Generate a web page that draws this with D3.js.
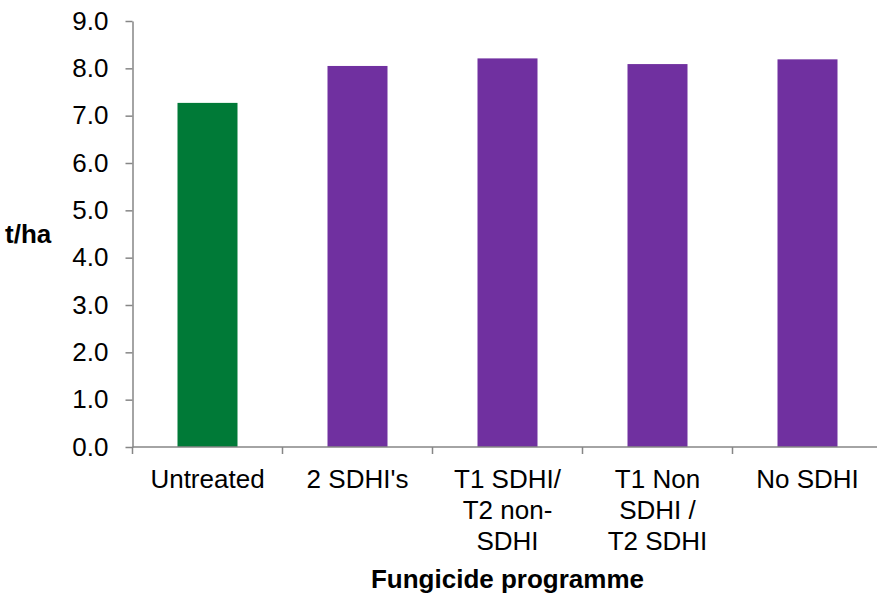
<!DOCTYPE html>
<html>
<head>
<meta charset="utf-8">
<script src="https://cdn.jsdelivr.net/npm/d3@7"></script>
<style>
  html, body { margin: 0; padding: 0; background: #fff; }
  svg { display: block; font-family: "Liberation Sans", Arial, sans-serif; }
</style>
</head>
<body>
<svg id="chart" width="877" height="594"></svg>
<script>
// Yield (t/ha) by fungicide programme
const categories = ["Untreated", "2 SDHI's", "T1 SDHI/ T2 non-SDHI", "T1 Non SDHI / T2 SDHI", "No SDHI"];
const categoryLines = [
  ["Untreated"],
  ["2 SDHI's"],
  ["T1 SDHI/", "T2 non-", "SDHI"],
  ["T1 Non", "SDHI /", "T2 SDHI"],
  ["No SDHI"]
];
const yieldValues = [7.27, 8.05, 8.21, 8.09, 8.19];
const barColors = ["#007A37", "#7030A0", "#7030A0", "#7030A0", "#7030A0"];
const yTicks = [0, 1, 2, 3, 4, 5, 6, 7, 8, 9];
const yAxisTitle = "t/ha";
const xAxisTitle = "Fungicide programme";

const svg = d3.select("#chart");
const fontSize = 26;
const axisColor = "#868686";

const plot = { left: 132.5, right: 882.5, top: 21, bottom: 447 };

const x = d3.scaleBand()
  .domain(categories)
  .range([plot.left, plot.right])
  .paddingInner(0.6)
  .paddingOuter(0.3);

const y = d3.scaleLinear()
  .domain([0, 9])
  .range([plot.bottom, plot.top]);

// Bars
svg.append("g")
  .selectAll("rect")
  .data(categories)
  .join("rect")
  .attr("x", d => x(d))
  .attr("width", x.bandwidth())
  .attr("y", (d, i) => y(yieldValues[i]))
  .attr("height", (d, i) => y(0) - y(yieldValues[i]))
  .attr("fill", (d, i) => barColors[i]);

// Y axis
const yAxis = d3.axisLeft(y)
  .tickValues(yTicks)
  .tickFormat(d3.format(".1f"))
  .tickSizeInner(7)
  .tickSizeOuter(0)
  .tickPadding(17);

const gy = svg.append("g")
  .attr("transform", `translate(${plot.left},0)`)
  .call(yAxis);
gy.select(".domain").attr("stroke", axisColor).attr("stroke-width", 1.5);
gy.selectAll(".tick line").attr("stroke", axisColor).attr("stroke-width", 1.5);
gy.selectAll(".tick text")
  .attr("font-size", fontSize)
  .attr("fill", "#000")
  .style("font-family", "'Liberation Sans', Arial, sans-serif");

// X axis: baseline with ticks at band boundaries
const gx = svg.append("g");
gx.append("line")
  .attr("x1", plot.left)
  .attr("x2", plot.right)
  .attr("y1", y(0))
  .attr("y2", y(0))
  .attr("stroke", axisColor)
  .attr("stroke-width", 1.5);

const boundaries = categories.map(c => x(c) - x.step() * x.paddingOuter());
boundaries.push(plot.right);
gx.selectAll("line.tick")
  .data(boundaries)
  .join("line")
  .attr("class", "tick")
  .attr("x1", d => d)
  .attr("x2", d => d)
  .attr("y1", y(0))
  .attr("y2", y(0) + 7)
  .attr("stroke", axisColor)
  .attr("stroke-width", 1.5);

// Category labels (wrapped)
const labels = gx.selectAll("text.cat")
  .data(categories)
  .join("text")
  .attr("class", "cat")
  .attr("text-anchor", "middle")
  .attr("font-size", fontSize)
  .attr("fill", "#000");
labels.each(function (d, i) {
  const t = d3.select(this);
  categoryLines[i].forEach((line, j) => {
    t.append("tspan")
      .attr("x", x(d) + x.bandwidth() / 2)
      .attr("y", 488 + j * 31)
      .text(line);
  });
});

// Axis titles
svg.append("text")
  .attr("x", (plot.left + plot.right) / 2)
  .attr("y", 588)
  .attr("text-anchor", "middle")
  .attr("font-size", fontSize)
  .attr("font-weight", "bold")
  .text(xAxisTitle);

svg.append("text")
  .attr("x", 5)
  .attr("y", 243)
  .attr("text-anchor", "start")
  .attr("font-size", fontSize)
  .attr("font-weight", "bold")
  .text(yAxisTitle);
</script>
</body>
</html>
